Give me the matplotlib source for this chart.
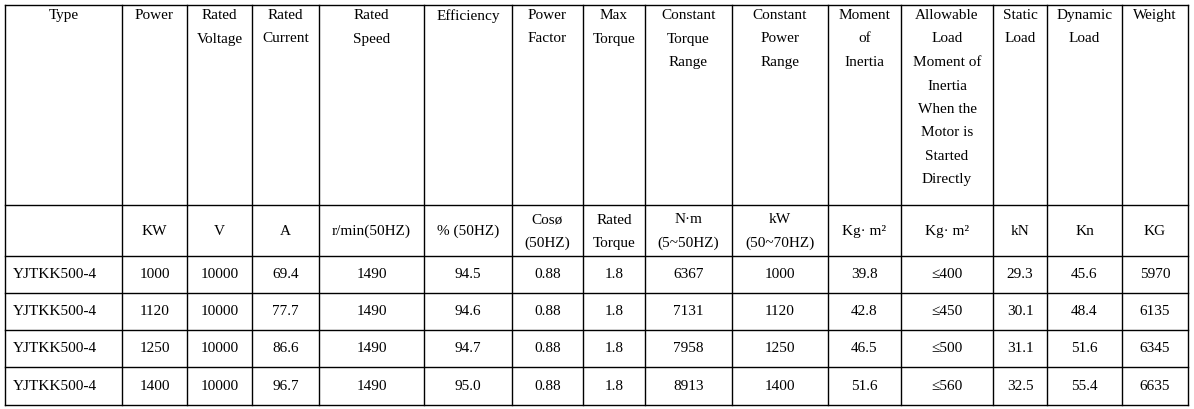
import matplotlib.pyplot as plt

headers = ["Type", "Power", "Rated\nVoltage", "Rated\nCurrent", "Rated\nSpeed", "Efficiency",
           "Power\nFactor", "Max\nTorque", "Constant\nTorque\nRange", "Constant\nPower\nRange",
           "Moment\nof\nInertia", "Allowable\nLoad\nMoment of\nInertia\nWhen the\nMotor is\nStarted\nDirectly",
           "Static\nLoad", "Dynamic\nLoad", "Weight"]
units = ["", "KW", "V", "A", "r/min(50HZ)", "% (50HZ)", "Cosø\n(50HZ)", "Rated\nTorque",
         "N·m\n(5~50HZ)", "kW\n(50~70HZ)", "Kg· m²", "Kg· m²", "kN", "Kn", "KG"]
types = ["YJTKK500-4"] * 4
power = ["1000", "1120", "1250", "1400"]
voltage = ["10000"] * 4
current = ["69.4", "77.7", "86.6", "96.7"]
speed = ["1490"] * 4
eff = ["94.5", "94.6", "94.7", "95.0"]
pf = ["0.88"] * 4
maxtq = ["1.8"] * 4
ctorque = ["6367", "7131", "7958", "8913"]
cpower = ["1000", "1120", "1250", "1400"]
inertia = ["39.8", "42.8", "46.5", "51.6"]
allow = ["≤400", "≤450", "≤500", "≤560"]
static = ["29.3", "30.1", "31.1", "32.5"]
dynamic = ["45.6", "48.4", "51.6", "55.4"]
weight = ["5970", "6135", "6345", "6635"]
rows = list(zip(types, power, voltage, current, speed, eff, pf, maxtq, ctorque,
                cpower, inertia, allow, static, dynamic, weight))

xs = [5, 122, 187, 252, 319, 424, 512, 583, 645, 732, 828, 901, 993, 1047, 1122, 1188]
ys = [5, 205, 256, 293, 330, 367, 405]

fig = plt.figure(figsize=(11.94, 4.09), dpi=100)
ax = fig.add_axes([0, 0, 1, 1])
ax.set_xlim(0, 1194)
ax.set_ylim(409, 0)
ax.axis("off")
plt.rcParams['font.family'] = ['Liberation Serif', 'DejaVu Serif']
fs = 11

for x in xs:
    ax.plot([x, x], [ys[0], ys[-1]], color="black", lw=1)
for y in ys:
    ax.plot([xs[0], xs[-1]], [y, y], color="black", lw=1)

for i, h in enumerate(headers):
    cx = (xs[i] + xs[i + 1]) / 2
    ax.text(cx, 9, h, ha="center", va="top", fontsize=fs, linespacing=2.05)
for i, u in enumerate(units):
    cx = (xs[i] + xs[i + 1]) / 2
    ax.text(cx, (ys[1] + ys[2]) / 2 + 1, u, ha="center", va="center", fontsize=fs, linespacing=2.0)
for r, row in enumerate(rows):
    cy = (ys[r + 2] + ys[r + 3]) / 2
    for i, v in enumerate(row):
        if i == 0:
            ax.text(xs[0] + 8, cy, v, ha="left", va="center", fontsize=fs)
        else:
            ax.text((xs[i] + xs[i + 1]) / 2, cy, v, ha="center", va="center", fontsize=fs)

fig.savefig("out.png", dpi=100)
